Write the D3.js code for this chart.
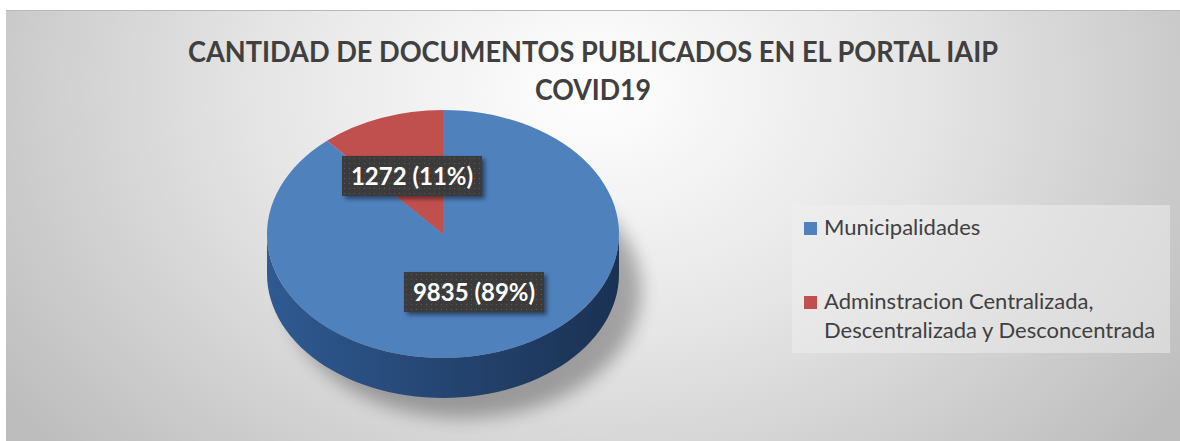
<!DOCTYPE html>
<html lang="es">
    <head>
        <meta charset="utf-8">
        <title>Documentos publicados</title>
        <script src="https://cdnjs.cloudflare.com/ajax/libs/d3/7.8.5/d3.min.js"></script>
        <style type="text/css">
           html, body { margin:0; padding:0; overflow:hidden; background:#fff }
           svg { display:block }
        </style>
    </head>
    <body>
        <script type="text/javascript">

          // data
          var categories = ["Municipalidades",
                            "Adminstracion Centralizada, Descentralizada y Desconcentrada"];
          var values = [9835, 1272];
          var legendLines = [["Municipalidades"],
                             ["Adminstracion Centralizada,", "Descentralizada y Desconcentrada"]];
          var titleLines = ["CANTIDAD DE DOCUMENTOS PUBLICADOS EN EL PORTAL IAIP", "COVID19"];

          // sizes
          var width = 1180, height = 441;
          var cx = 443, cy = 234, rx = 176, ry = 124, depth = 40;
          var colors = {top: ["#4f81bd", "#c0504d"], side0: "#2f5a92", side1: "#1a3152"};
          var font = "Lato, 'Open Sans', sans-serif";

          var svg = d3.select("body").append("svg")
             .attr("width", width).attr("height", height);
          var defs = svg.append("defs");

          // background gradient
          var bg = defs.append("radialGradient").attr("id", "bg")
             .attr("gradientUnits", "userSpaceOnUse")
             .attr("cx", 593).attr("cy", 90).attr("r", 720)
             .attr("gradientTransform", "translate(593,90) scale(1,0.75) translate(-593,-90)");
          bg.append("stop").attr("offset", "0%").attr("stop-color", "#ffffff");
          bg.append("stop").attr("offset", "45%").attr("stop-color", "#e6e6e6");
          bg.append("stop").attr("offset", "100%").attr("stop-color", "#bdbdbd");

          var side = defs.append("linearGradient").attr("id", "side")
             .attr("x1", "0%").attr("x2", "100%").attr("y1", "0%").attr("y2", "0%");
          side.append("stop").attr("offset", "0%").attr("stop-color", colors.side0);
          side.append("stop").attr("offset", "100%").attr("stop-color", colors.side1);

          var blur = defs.append("filter").attr("id", "blur")
             .attr("x", "-20%").attr("y", "-20%").attr("width", "140%").attr("height", "140%");
          blur.append("feGaussianBlur").attr("stdDeviation", 9);

          var shadow = defs.append("filter").attr("id", "boxshadow")
             .attr("x", "-20%").attr("y", "-30%").attr("width", "150%").attr("height", "180%");
          shadow.append("feDropShadow").attr("dx", 3).attr("dy", 3)
             .attr("stdDeviation", 2).attr("flood-color", "#000").attr("flood-opacity", 0.45);

          var dots = defs.append("pattern").attr("id", "dots")
             .attr("width", 5).attr("height", 5).attr("patternUnits", "userSpaceOnUse");
          dots.append("rect").attr("width", 5).attr("height", 5).attr("fill", "#3b3b3b");
          dots.append("rect").attr("x", 2).attr("y", 2).attr("width", 1).attr("height", 1)
             .attr("fill", "#5a5a5a");

          // chart area
          svg.append("rect").attr("x", 6).attr("y", 10)
             .attr("width", width - 6).attr("height", height - 10)
             .attr("fill", "url(#bg)");
          svg.append("line").attr("x1", 6).attr("x2", width).attr("y1", 10.5).attr("y2", 10.5)
             .attr("stroke", "#b8b8b8");

          // title
          svg.append("g").selectAll("text")
             .data(titleLines)
             .enter()
             .append("text")
             .attr("x", 593)
             .attr("y", function(d, i) {return 62 + i * 38;})
             .attr("text-anchor", "middle")
             .attr("font-family", font).attr("font-weight", "bold")
             .attr("font-size", 29).attr("fill", "#404040")
             .attr("textLength", function(d, i) {return i === 0 ? 810 : 116;})
             .attr("lengthAdjust", "spacingAndGlyphs")
             .text(function(d) {return d;});

          // pie
          var pie = d3.pie().sort(null).value(function(d) {return d;});
          var arcs = pie(values);
          var total = d3.sum(values);
          var arc = d3.arc().innerRadius(0).outerRadius(rx);
          var labelArc = d3.arc().innerRadius(rx * 0.5).outerRadius(rx * 0.5);

          var g = svg.append("g");

          // shadow under the pie
          g.append("ellipse")
             .attr("cx", cx + 20).attr("cy", cy + depth + 16)
             .attr("rx", rx + 2).attr("ry", ry + 4)
             .attr("fill", "#000").attr("opacity", 0.3)
             .attr("filter", "url(#blur)");

          // side wall (front half)
          var sidePath = d3.path();
          sidePath.moveTo(cx - rx, cy);
          sidePath.lineTo(cx - rx, cy + depth);
          var n = 60;
          for (var i = 0; i <= n; i++) {
                var a = Math.PI - Math.PI * i / n;
                sidePath.lineTo(cx + rx * Math.cos(a), cy + depth + ry * Math.sin(a));}
          sidePath.lineTo(cx + rx, cy);
          for (var j = 0; j <= n; j++) {
                var b = Math.PI * j / n;
                sidePath.lineTo(cx + rx * Math.cos(b), cy + ry * Math.sin(b));}
          sidePath.closePath();
          g.append("path").attr("d", sidePath.toString()).attr("fill", "url(#side)");

          // top face
          g.append("g")
             .attr("transform", "translate(" + cx + "," + cy + ") scale(1," + (ry / rx) + ")")
             .selectAll("path")
             .data(arcs)
             .enter()
             .append("path")
             .attr("d", arc)
             .attr("fill", function(d, i) {return colors.top[i];});

          // data labels
          var labels = svg.append("g").selectAll("g")
             .data(arcs)
             .enter()
             .append("g")
             .attr("transform", function(d) {
                   var c = labelArc.centroid(d);
                   return "translate(" + (cx + c[0]) + "," + (cy + c[1] * ry / rx) + ")";});
          labels.append("rect")
             .attr("x", -70).attr("y", -20).attr("width", 140).attr("height", 40)
             .attr("fill", "url(#dots)").attr("filter", "url(#boxshadow)");
          labels.append("text")
             .attr("text-anchor", "middle").attr("dy", "0.36em")
             .attr("font-family", font).attr("font-weight", "bold")
             .attr("font-size", 24).attr("fill", "#ffffff")
             .text(function(d) {
                   return d.value + " (" + Math.round(d.value / total * 100) + "%)";});

          // legend
          var legend = svg.append("g");
          legend.append("rect")
             .attr("x", 792).attr("y", 205).attr("width", 378).attr("height", 148)
             .attr("fill", "#f0f0f0").attr("opacity", 0.5);
          var items = legend.selectAll("g.item")
             .data(categories)
             .enter()
             .append("g").attr("class", "item")
             .attr("transform", function(d, i) {return "translate(804," + (222 + i * 74) + ")";});
          items.append("rect")
             .attr("width", 13).attr("height", 13)
             .attr("fill", function(d, i) {return colors.top[i];});
          items.append("text")
             .attr("font-family", font).attr("font-size", 22).attr("fill", "#404040")
             .selectAll("tspan")
             .data(function(d, i) {return legendLines[i];})
             .enter()
             .append("tspan")
             .attr("x", 20)
             .attr("y", function(d, k) {return 13 + k * 29;})
             .text(function(d) {return d;});

        </script>
    </body>
</html>
